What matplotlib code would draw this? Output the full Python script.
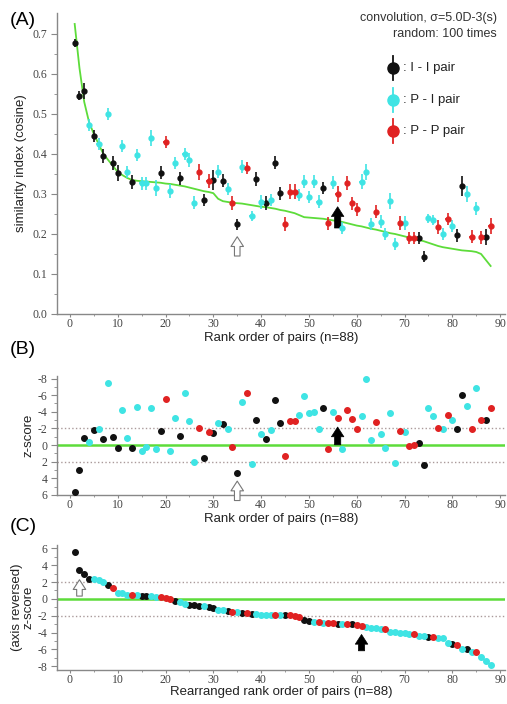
import numpy as np
import matplotlib
matplotlib.use('Agg')
import matplotlib.pyplot as plt

plt.rcParams['font.family'] = ['Liberation Sans', 'DejaVu Sans']

# pair type for each rank (II = I-I pair, PI = P-I pair, PP = P-P pair)
pair_type = ['II', 'II', 'II', 'PI', 'II', 'PI', 'II', 'PI', 'II', 'II',
             'PI', 'PI', 'II', 'PI', 'PI', 'PI', 'PI', 'PI', 'II', 'PP',
             'PI', 'PI', 'II', 'PI', 'PI', 'PI', 'PP', 'II', 'PP', 'II',
             'PI', 'II', 'PI', 'PP', 'II', 'PI', 'PP', 'PI', 'II', 'PI',
             'II', 'PI', 'II', 'II', 'PP', 'PP', 'PP', 'PI', 'PI', 'PI',
             'PI', 'PI', 'II', 'PP', 'PI', 'PP', 'PI', 'PP', 'PP', 'PP',
             'PI', 'PI', 'PI', 'PP', 'PI', 'PI', 'PI', 'PI', 'PP', 'PI',
             'PP', 'PP', 'II', 'II', 'PI', 'PI', 'PP', 'PI', 'PP', 'PI',
             'II', 'II', 'PI', 'PP', 'PI', 'PP', 'II', 'PP']

similarity = [0.678, 0.546, 0.558, 0.473, 0.445, 0.425, 0.395, 0.500, 0.378, 0.352,
              0.421, 0.356, 0.330, 0.397, 0.327, 0.327, 0.440, 0.315, 0.353, 0.430,
              0.308, 0.378, 0.339, 0.400, 0.385, 0.278, 0.356, 0.285, 0.333, 0.335,
              0.356, 0.333, 0.312, 0.277, 0.224, 0.368, 0.364, 0.245, 0.337, 0.280,
              0.278, 0.285, 0.378, 0.302, 0.225, 0.306, 0.306, 0.298, 0.331, 0.292,
              0.331, 0.281, 0.314, 0.227, 0.328, 0.300, 0.215, 0.327, 0.277, 0.262,
              0.331, 0.356, 0.225, 0.256, 0.231, 0.200, 0.283, 0.175, 0.227, 0.228,
              0.190, 0.190, 0.190, 0.143, 0.239, 0.235, 0.217, 0.200, 0.237, 0.220,
              0.197, 0.320, 0.300, 0.193, 0.264, 0.192, 0.192, 0.220]

sim_err = [0.010, 0.012, 0.020, 0.015, 0.016, 0.015, 0.018, 0.015, 0.018, 0.020,
           0.015, 0.015, 0.018, 0.015, 0.016, 0.016, 0.020, 0.020, 0.016, 0.016,
           0.018, 0.015, 0.016, 0.016, 0.018, 0.016, 0.020, 0.014, 0.018, 0.025,
           0.016, 0.016, 0.015, 0.018, 0.014, 0.016, 0.015, 0.012, 0.018, 0.018,
           0.018, 0.015, 0.016, 0.016, 0.018, 0.018, 0.018, 0.015, 0.016, 0.015,
           0.016, 0.016, 0.015, 0.016, 0.016, 0.020, 0.016, 0.018, 0.016, 0.016,
           0.018, 0.020, 0.016, 0.016, 0.016, 0.016, 0.020, 0.016, 0.018, 0.018,
           0.015, 0.015, 0.016, 0.014, 0.012, 0.012, 0.018, 0.016, 0.015, 0.015,
           0.016, 0.025, 0.020, 0.016, 0.016, 0.016, 0.020, 0.020]

# expected similarity from the random shuffles (green line)
random_mean = [0.725, 0.615, 0.530, 0.480, 0.450, 0.425, 0.400, 0.385, 0.370, 0.355,
               0.347, 0.340, 0.335, 0.333, 0.332, 0.331, 0.330, 0.329, 0.328, 0.326,
               0.325, 0.323, 0.321, 0.319, 0.316, 0.313, 0.310, 0.307, 0.305, 0.302,
               0.288, 0.282, 0.280, 0.278, 0.277, 0.276, 0.274, 0.272, 0.270, 0.268,
               0.267, 0.265, 0.263, 0.260, 0.258, 0.255, 0.252, 0.247, 0.242, 0.241,
               0.240, 0.239, 0.238, 0.236, 0.234, 0.232, 0.230, 0.227, 0.224, 0.221,
               0.219, 0.216, 0.213, 0.211, 0.208, 0.205, 0.202, 0.200, 0.197, 0.194,
               0.191, 0.188, 0.185, 0.182, 0.178, 0.174, 0.170, 0.167, 0.165, 0.163,
               0.161, 0.159, 0.158, 0.157, 0.155, 0.150, 0.135, 0.120]

z_score = [5.6, 3.0, -0.8, -0.4, -1.8, -1.9, -0.7, -7.4, -1.0, 0.3,
           -4.2, -0.8, 0.3, -4.6, 0.7, 0.2, -4.4, 0.5, -1.7, -5.5,
           0.7, -3.3, -1.1, -6.3, -2.9, 2.0, -2.1, 1.6, -1.6, -1.4,
           -2.7, -2.5, -1.9, 0.2, 3.4, -5.2, -6.3, 2.3, -3.0, -1.3,
           -0.7, -1.8, -5.4, -2.6, 1.3, -2.9, -2.9, -3.6, -5.9, -3.9,
           -4.0, -1.9, -4.5, 0.5, -4.0, -3.2, 0.5, -4.2, -3.1, -1.9,
           -3.5, -7.9, -0.6, -2.8, -1.3, 0.3, -3.9, 2.2, -1.7, -1.6,
           0.1, 0.0, -0.2, 2.4, -4.4, -3.5, -2.0, -1.9, -3.6, -3.0,
           -1.9, -6.0, -4.7, -1.9, -6.9, -3.0, -3.0, -4.5]

type_colors = {'II': '#111111', 'PI': '#3fe4e4', 'PP': '#e02222'}
type_labels = {'II': ': I - I pair', 'PI': ': P - I pair', 'PP': ': P - P pair'}
green = '#5ddc3a'
serif = 'Liberation Serif'

rank = np.arange(1, len(similarity) + 1)
ptype = np.array(pair_type)
sim = np.array(similarity)
err = np.array(sim_err)
z = np.array(z_score)

# panel C: z-scores rearranged in descending order
order = np.argsort(-z, kind='stable')
z_sorted = z[order]
type_sorted = ptype[order]

fig = plt.figure(figsize=(5.07, 7.04), dpi=100)
axA = fig.add_axes([0.1124, 0.554, 0.8836, 0.4276])
axB = fig.add_axes([0.1124, 0.2969, 0.8836, 0.169])
axC = fig.add_axes([0.1124, 0.0483, 0.8836, 0.1776])


def style_axes(ax):
    for s in ['top', 'right']:
        ax.spines[s].set_visible(False)
    for s in ['left', 'bottom']:
        ax.spines[s].set_color('#888888')
        ax.spines[s].set_linewidth(1.0)
    ax.set_xlim(-2.7, 91)
    ax.set_xticks(np.arange(0, 91, 10))
    ax.set_xticks(np.arange(5, 91, 10), minor=True)
    ax.tick_params(which='both', direction='out', color='#888888', labelcolor='#444444')
    ax.tick_params(which='major', length=4, labelsize=8.5, pad=3)
    ax.tick_params(which='minor', length=2.5)
    ax.tick_params(axis='x', which='major', length=2, pad=1)
    ax.tick_params(axis='x', which='minor', length=1.5)
    for lab in ax.get_xticklabels() + ax.get_yticklabels():
        lab.set_family(serif)


# ---------------- (A) ----------------
style_axes(axA)
axA.plot(rank, random_mean, color=green, lw=1.3, zorder=2)
for t in ['II', 'PI', 'PP']:
    m = ptype == t
    axA.errorbar(rank[m], sim[m], yerr=err[m], xerr=0.45, fmt='o', ms=3.5,
                 color=type_colors[t], elinewidth=1.2, capsize=0, zorder=3)
axA.set_ylim(0, 0.7525)
axA.set_yticks(np.arange(0, 0.71, 0.1))
axA.set_yticks(np.arange(0.05, 0.75, 0.1), minor=True)
axA.set_yticklabels(['%.1f' % v for v in np.arange(0, 0.71, 0.1)], family=serif)
axA.set_xlabel('Rank order of pairs (n=88)', fontsize=9.5, color='#222222', labelpad=1)
axA.set_ylabel('similarity index (cosine)', fontsize=9.5, color='#222222', labelpad=4)
axA.annotate('', xy=(35, 0.200), xytext=(35, 0.138),
             arrowprops=dict(arrowstyle='simple,head_width=0.9,head_length=0.7,tail_width=0.4',
                             mutation_scale=10, fc='white', ec='#777777', lw=0.8))
axA.annotate('', xy=(56, 0.275), xytext=(56, 0.208),
             arrowprops=dict(arrowstyle='simple,head_width=0.9,head_length=0.7,tail_width=0.45',
                             mutation_scale=10, fc='black', ec='black', lw=0.5))
axA.text(0.982, 0.983, 'convolution, \u03c3=5.0D-3(s)', transform=axA.transAxes,
         ha='right', va='center', fontsize=9, color='#333333')
axA.text(0.982, 0.93, 'random: 100 times', transform=axA.transAxes,
         ha='right', va='center', fontsize=9, color='#333333')
for i, t in enumerate(['II', 'PI', 'PP']):
    yy = 0.817 - i * 0.105
    axA.plot([0.75, 0.75], [yy - 0.04, yy + 0.04], color=type_colors[t], lw=1.3,
             transform=axA.transAxes, clip_on=False)
    axA.plot([0.75], [yy], 'o', ms=8, color=type_colors[t], transform=axA.transAxes,
             clip_on=False)
    axA.text(0.772, yy, type_labels[t], transform=axA.transAxes, ha='left', va='center',
             fontsize=9.5, color='#222222')
fig.text(0.02, 0.971, '(A)', fontsize=14, ha='left', va='center')

# ---------------- (B) ----------------
style_axes(axB)
axB.axhline(0, color=green, lw=1.8, zorder=1)
for v in [-2, 2]:
    axB.axhline(v, color='#aa9a9a', lw=1.0, ls=':', zorder=1)
for t in ['II', 'PI', 'PP']:
    m = ptype == t
    axB.plot(rank[m], z[m], 'o', ms=4, color=type_colors[t], zorder=3)
axB.set_ylim(6, -8.3)
axB.set_yticks(np.arange(-8, 7, 2))
axB.set_yticks(np.arange(-7, 7, 2), minor=True)
axB.set_yticklabels([str(v) for v in np.arange(-8, 7, 2)], family=serif)
axB.set_xlabel('Rank order of pairs (n=88)', fontsize=9.5, color='#222222', labelpad=1)
axB.set_ylabel('z-score', fontsize=9.5, color='#222222', labelpad=2)
axB.annotate('', xy=(35, 4.0), xytext=(35, 7.0), annotation_clip=False,
             arrowprops=dict(arrowstyle='simple,head_width=0.9,head_length=0.7,tail_width=0.4',
                             mutation_scale=10, fc='white', ec='#777777', lw=0.8))
axB.annotate('', xy=(56, -2.5), xytext=(56, 0.3),
             arrowprops=dict(arrowstyle='simple,head_width=0.9,head_length=0.7,tail_width=0.45',
                             mutation_scale=10, fc='black', ec='black', lw=0.5))
fig.text(0.02, 0.503, '(B)', fontsize=14, ha='left', va='center')

# ---------------- (C) ----------------
style_axes(axC)
axC.axhline(0, color=green, lw=1.8, zorder=1)
for v in [-2, 2]:
    axC.axhline(v, color='#aa9a9a', lw=1.0, ls=':', zorder=1)
for t in ['II', 'PI', 'PP']:
    m = type_sorted == t
    axC.plot(rank[m], z_sorted[m], 'o', ms=4, color=type_colors[t], zorder=3)
axC.set_ylim(-8.45, 6.4)
axC.set_yticks(np.arange(-8, 7, 2))
axC.set_yticks(np.arange(-7, 7, 2), minor=True)
axC.set_yticklabels([str(v) for v in np.arange(-8, 7, 2)], family=serif)
axC.set_xlabel('Rearranged rank order of pairs (n=88)', fontsize=9.5, color='#222222',
               labelpad=0)
axC.set_ylabel('(axis reversed)\nz-score', fontsize=9.5, color='#222222', labelpad=2,
               linespacing=0.95)
axC.annotate('', xy=(2, 2.6), xytext=(2, 0.0),
             arrowprops=dict(arrowstyle='simple,head_width=0.9,head_length=0.7,tail_width=0.4',
                             mutation_scale=10, fc='white', ec='#777777', lw=0.8))
axC.annotate('', xy=(61, -3.9), xytext=(61, -6.5),
             arrowprops=dict(arrowstyle='simple,head_width=0.9,head_length=0.7,tail_width=0.45',
                             mutation_scale=10, fc='black', ec='black', lw=0.5))
fig.text(0.02, 0.252, '(C)', fontsize=14, ha='left', va='center')

fig.savefig('out.png', dpi=100)
